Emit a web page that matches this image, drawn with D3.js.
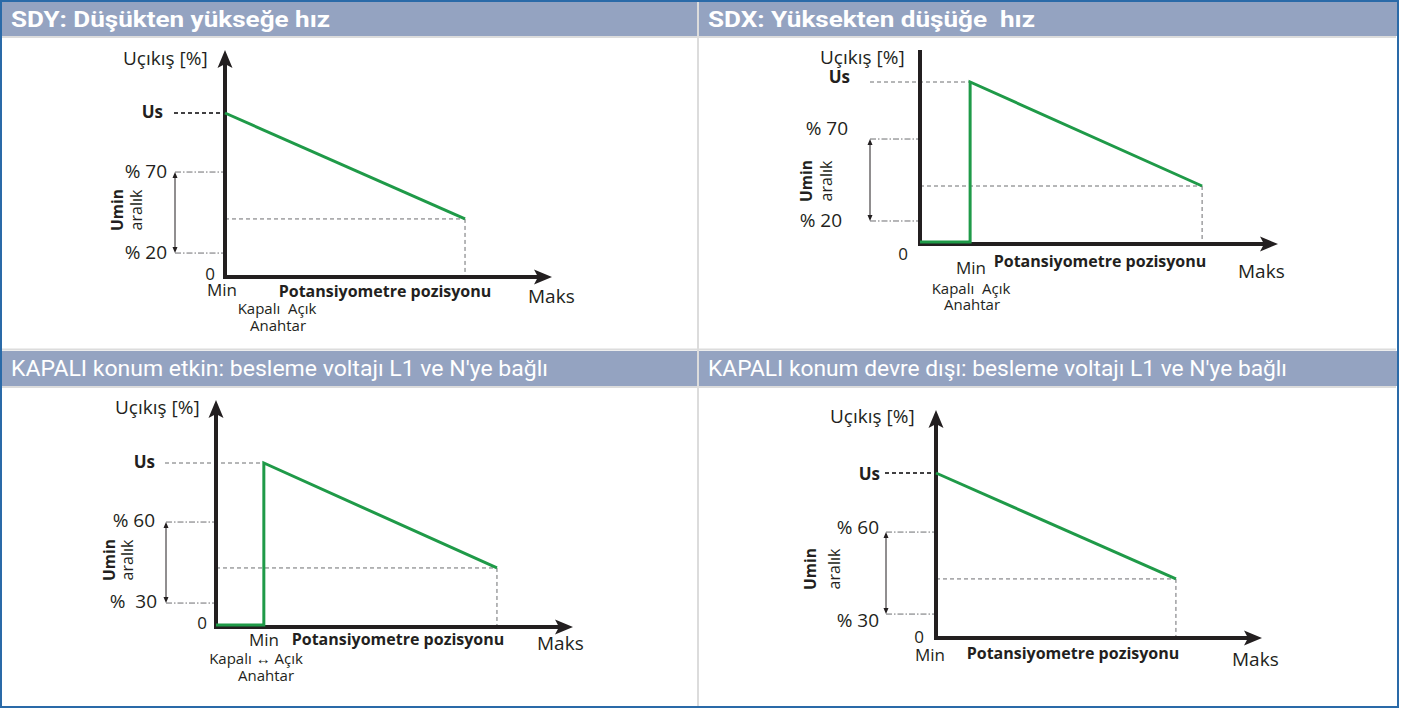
<!DOCTYPE html>
<html>
<head>
<meta charset="utf-8">
<title>Potansiyometre</title>
<script src="https://cdn.jsdelivr.net/npm/d3@7"></script>
<style>
body { margin: 0; background: #fff; }
svg text { white-space: pre; }
.lbl { font-family: "Open Sans", "Noto Sans", sans-serif; fill: #231f20; }
.hdr { font-family: Roboto, "Open Sans", sans-serif; fill: #fff; }
</style>
</head>
<body>
<svg id="chart" width="1419" height="711"></svg>
<script>
// panel titles
var titles = [
  "SDY: Düşükten yükseğe hız",
  "SDX: Yüksekten düşüğe  hız",
  "KAPALI konum etkin: besleme voltajı L1 ve N'ye bağlı",
  "KAPALI konum devre dışı: besleme voltajı L1 ve N'ye bağlı"
];
var titleWeights = [700, 700, 400, 400];

var yTitle = "Uçıkış [%]";
var xTitle = "Potansiyometre pozisyonu";
var usLabel = "Us", zeroLabel = "0", minLabel = "Min", maxLabel = "Maks";
var uminLabels = ["Umin", "aralık"];

// umin range tick labels + their height (0..100, Us = 100)
var rangeHigh = ["% 70", "% 70", "% 60", "% 60"];
var rangeLow = ["% 20", "% 20", "%  30", "% 30"];
var rangeHighVals = [64.0, 64.8, 64.0, 64.2];
var rangeLowVals = [14.6, 14.2, 14.6, 14.5];

// green output curve, x: 0..100 (Min..Maks arrow), y: 0..100 (Us = 100)
var curveX = [[0, 73.4], [0, 14.0, 14.0, 78.8], [0, 13.4, 13.4, 78.7], [0, 73.6]];
var curveY = [[100, 35.4], [1.2, 1.2, 100, 35.8], [1.2, 1.2, 100, 36.0], [100, 35.8]];

var switchLabels = ["Kapalı  Açık", "Kapalı  Açık", "Kapalı ↔ Açık", ""];
var switchTitles = ["Anahtar", "Anahtar", "Anahtar", ""];

// placement of each panel (pixels)
var layout = [
  {ox: 225, oy: 277, h: 164, w: 327, top: 50, topArrow: true, usX0: 174, usBold: true, rngX0: 175,
   ttl: [123, 65], usL: [163, 5], rngL: [167, 6, 167, 6], zero: [215, 280], min: [222, 296],
   xt: [385, 297], maks: [528, 303], sw: [277, 314, 278, 331], umin: [123, 142, 210]},
  {ox: 920, oy: 244, h: 162, w: 358, top: 50, topArrow: false, usX0: 870, usBold: false, rngX0: 870,
   ttl: [820, 64], usL: [850, 1], rngL: [848, -4, 842, 6], zero: [908, 260], min: [971, 274],
   xt: [1100, 267], maks: [1238, 278], sw: [971, 294, 972, 310], umin: [812, 832, 181]},
  {ox: 216, oy: 627, h: 164, w: 357, top: 400, topArrow: true, usX0: 165, usBold: false, rngX0: 166,
   ttl: [115, 414], usL: [155, 5], rngL: [155, 5, 157, 5], zero: [207, 629], min: [264, 646],
   xt: [398, 645], maks: [537, 650], sw: [256, 664, 266, 681], umin: [115, 133, 560]},
  {ox: 936, oy: 638, h: 165, w: 326, top: 410, topArrow: true, usX0: 885, usBold: true, rngX0: 886,
   ttl: [830, 423], usL: [880, 7], rngL: [879, 2, 879, 13], zero: [924, 643], min: [930, 661],
   xt: [1073, 659], maks: [1232, 666], sw: null, umin: [816, 840, 569]}
];

var green = "#1f9a48", ink = "#231f20", grey = "#6d6e71";
var svg = d3.select("#chart");

// frame and headers
var headerX = [2, 699, 2, 699], headerY = [2, 2, 351, 351], headerW = [696, 698, 696, 698];
var headerTextW = [319, 327, 537, 579];
svg.append("rect").attr("x", 0).attr("y", 0).attr("width", 1419).attr("height", 711).attr("fill", "#fff");
titles.forEach(function(t, i) {
  svg.append("rect").attr("x", headerX[i]).attr("y", headerY[i])
    .attr("width", headerW[i]).attr("height", i < 2 ? 34 : 35).attr("fill", "#94a3c1");
  svg.append("text").attr("class", "hdr")
    .attr("x", headerX[i] + 9).attr("y", headerY[i] + 25)
    .attr("font-size", 22).attr("font-weight", titleWeights[i])
    .attr("textLength", headerTextW[i]).attr("lengthAdjust", "spacingAndGlyphs")
    .text(t);
});
svg.append("line").attr("x1", 2).attr("x2", 1396).attr("y1", 37).attr("y2", 37).attr("stroke", "#dcdcdc").attr("stroke-width", 2);
svg.append("line").attr("x1", 2).attr("x2", 1396).attr("y1", 349.5).attr("y2", 349.5).attr("stroke", "#dcdcdc").attr("stroke-width", 2);
svg.append("line").attr("x1", 2).attr("x2", 1396).attr("y1", 387).attr("y2", 387).attr("stroke", "#dcdcdc").attr("stroke-width", 2);
svg.append("line").attr("x1", 698).attr("x2", 698).attr("y1", 2).attr("y2", 706).attr("stroke", "#dcdcdc").attr("stroke-width", 2);
svg.append("rect").attr("x", 1).attr("y", 1).attr("width", 1397).attr("height", 706)
  .attr("fill", "none").attr("stroke", "#2a6aa8").attr("stroke-width", 2);

function arrowHead(g, x, y, angle) {
  g.append("path").attr("d", "M0,0L-18,-7.5L-14,0L-18,7.5Z")
    .attr("fill", ink).attr("transform", "translate(" + x + "," + y + ") rotate(" + angle + ")");
}

function doubleArrow(g, x, y1, y2) {
  g.append("line").attr("x1", x).attr("x2", x).attr("y1", y1 + 2).attr("y2", y2 - 2)
    .attr("stroke", ink).attr("stroke-width", 1);
  g.append("path").attr("d", "M" + x + "," + y1 + "l-2.5,6h5z").attr("fill", ink);
  g.append("path").attr("d", "M" + x + "," + y2 + "l-2.5,-6h5z").attr("fill", ink);
}

layout.forEach(function(L, i) {
  var g = svg.append("g");
  var x = d3.scaleLinear().domain([0, 100]).range([L.ox, L.ox + L.w]);
  var y = d3.scaleLinear().domain([0, 100]).range([L.oy, L.oy - L.h]);
  var pts = curveX[i].map(function(v, k) { return [v, curveY[i][k]]; });
  var last = pts[pts.length - 1];
  var usPt = pts.filter(function(p) { return p[1] === 100; })[0];

  // guide lines
  g.append("line").attr("x1", L.usX0).attr("x2", x(usPt[0])).attr("y1", y(100)).attr("y2", y(100))
    .attr("stroke", L.usBold ? "#414042" : grey).attr("stroke-width", L.usBold ? 2 : 1)
    .attr("stroke-dasharray", "4,3");
  [rangeHighVals[i], rangeLowVals[i]].forEach(function(v) {
    g.append("line").attr("x1", L.rngX0).attr("x2", x(0)).attr("y1", y(v)).attr("y2", y(v))
      .attr("stroke", grey).attr("stroke-width", 1).attr("stroke-dasharray", "6,2,1.5,2");
  });
  doubleArrow(g, L.rngX0, y(rangeHighVals[i]), y(rangeLowVals[i]));
  g.append("line").attr("x1", x(0)).attr("x2", x(last[0])).attr("y1", y(last[1])).attr("y2", y(last[1]))
    .attr("stroke", grey).attr("stroke-width", 1).attr("stroke-dasharray", "4,3");
  g.append("line").attr("x1", x(last[0])).attr("x2", x(last[0])).attr("y1", y(last[1])).attr("y2", y(0))
    .attr("stroke", grey).attr("stroke-width", 1).attr("stroke-dasharray", "4,3");

  // axes
  g.append("line").attr("x1", x(0)).attr("x2", x(0)).attr("y1", y(0) + 2)
    .attr("y2", L.topArrow ? L.top + 14 : L.top).attr("stroke", ink).attr("stroke-width", 4);
  if (L.topArrow) arrowHead(g, x(0), L.top, -90);
  g.append("line").attr("x1", x(0) - 2).attr("x2", x(100) - 14).attr("y1", y(0)).attr("y2", y(0))
    .attr("stroke", ink).attr("stroke-width", 4);
  arrowHead(g, x(100), y(0), 0);

  // output curve
  g.append("path").datum(pts)
    .attr("d", d3.line().x(function(d) { return x(d[0]); }).y(function(d) { return y(d[1]); }))
    .attr("fill", "none").attr("stroke", green).attr("stroke-width", 3).attr("stroke-linejoin", "miter");

  // labels
  function label(tx, ty, s, size, opts) {
    opts = opts || {};
    return g.append("text").attr("class", "lbl").attr("x", tx).attr("y", ty)
      .attr("font-size", size).attr("font-weight", opts.bold ? 700 : 400)
      .attr("text-anchor", opts.anchor || "start").text(s);
  }
  label(L.ttl[0], L.ttl[1], yTitle, 19);
  label(L.usL[0], y(100) + L.usL[1], usLabel, 17, {bold: true, anchor: "end"});
  label(L.rngL[0], y(rangeHighVals[i]) + L.rngL[1], rangeHigh[i], 19, {anchor: "end"});
  label(L.rngL[2], y(rangeLowVals[i]) + L.rngL[3], rangeLow[i], 19, {anchor: "end"});
  label(L.zero[0], L.zero[1], zeroLabel, 17, {anchor: "end"});
  label(L.min[0], L.min[1], minLabel, 17, {anchor: "middle"});
  label(L.xt[0], L.xt[1], xTitle, 16, {bold: true, anchor: "middle"});
  label(L.maks[0], L.maks[1], maxLabel, 19);
  if (L.sw) {
    label(L.sw[0], L.sw[1], switchLabels[i], 15, {anchor: "middle"});
    label(L.sw[2], L.sw[3], switchTitles[i], 15, {anchor: "middle"});
  }
  g.append("text").attr("class", "lbl").attr("transform", "translate(" + L.umin[0] + "," + L.umin[2] + ") rotate(-90)")
    .attr("text-anchor", "middle").attr("font-size", 15.5).attr("font-weight", 700).text(uminLabels[0]);
  g.append("text").attr("class", "lbl").attr("transform", "translate(" + L.umin[1] + "," + L.umin[2] + ") rotate(-90)")
    .attr("text-anchor", "middle").attr("font-size", 16).text(uminLabels[1]);
});
</script>
</body>
</html>
